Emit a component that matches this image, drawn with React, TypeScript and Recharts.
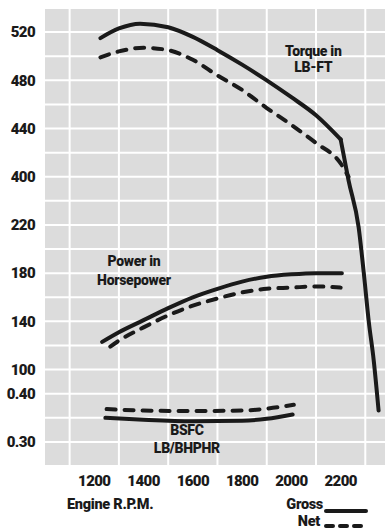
import React from 'react'
import {
  CartesianGrid,
  Line,
  LineChart,
  ReferenceDot,
  XAxis,
  YAxis,
} from 'recharts'

// rpm / value pairs
const torqueGrossRpm = [1225, 1300, 1386, 1500, 1600, 1700, 1800, 1900, 2000, 2100, 2200, 2232, 2273, 2294, 2314, 2334, 2354]
const torqueGross = [515, 523, 527, 524, 516, 505, 493, 480, 466, 451, 431, 397, 358, 320, 280, 248, 206]
const torqueNetRpm = [1225, 1300, 1400, 1500, 1600, 1700, 1800, 1900, 2000, 2100, 2200, 2232]
const torqueNet = [499, 504, 507, 505, 497, 484, 472, 457, 443, 428, 411, 400]

const powerGrossRpm = [1232, 1300, 1400, 1500, 1600, 1700, 1800, 1900, 2000, 2100, 2205]
const powerGross = [123, 131, 141, 151, 160, 167, 173, 177, 179, 180, 180]
const powerNetRpm = [1265, 1300, 1400, 1500, 1600, 1700, 1800, 1900, 2000, 2100, 2200]
const powerNet = [119, 124, 135, 145, 153, 159, 164, 167, 168, 169, 168]

const bsfcGrossRpm = [1245, 1400, 1600, 1800, 1900, 2005]
const bsfcGross = [0.35, 0.346, 0.343, 0.344, 0.348, 0.357]
const bsfcNetRpm = [1250, 1400, 1600, 1800, 1900, 2010]
const bsfcNet = [0.368, 0.365, 0.364, 0.365, 0.369, 0.377]

const rpmTicks = [1200, 1400, 1600, 1800, 2000, 2200]
const rpmGrid = [1000, 1100, 1200, 1300, 1400, 1500, 1600, 1700, 1800, 1900, 2000, 2100, 2200, 2300]

const torqueTicks = [400, 440, 480, 520]
const powerTicks = [100, 140, 180, 220]
const bsfcTicks = [0.3, 0.4]

// the three scales share the same grid: 19 rows of 20 lb-ft, 20 hp, 0.05 lb/hp-hr
const torqueDomain: [number, number] = [160, 540]
const powerDomain: [number, number] = [20, 400]
const bsfcDomain: [number, number] = [0.25, 1.2]
const TORQUE_STEP = 20

const FONT = "Roboto, 'DejaVu Sans', sans-serif"
const INK = '#1a1a1a'
const textStyle: React.CSSProperties = { fontFamily: FONT, fontWeight: 900 }
const tickStyle = { ...textStyle, fontSize: 15, letterSpacing: -0.6, fill: INK } as any

const zip = (xs: number[], ys: number[]) => xs.map((rpm, i) => ({ rpm, v: ys[i] }))
// express a value of another scale in torque units, so one axis can carry all labels
const asTorque = (v: number, d: [number, number]) =>
  torqueDomain[0] + ((v - d[0]) / (d[1] - d[0])) * (torqueDomain[1] - torqueDomain[0])

const labelTicks = [
  ...bsfcTicks.map((v) => ({ at: asTorque(v, bsfcDomain), text: v.toFixed(2) })),
  ...powerTicks.map((v) => ({ at: asTorque(v, powerDomain), text: String(v) })),
  ...torqueTicks.map((v) => ({ at: v, text: String(v) })),
]
const gridLines: number[] = []
for (let t = torqueDomain[0]; t <= torqueDomain[1]; t += TORQUE_STEP) gridLines.push(t)

const cut = torqueGrossRpm.indexOf(2200)
const torqueGrossData = zip(torqueGrossRpm, torqueGross)

const note = (lines: string[], gap: number) => (props: any) => {
  const { viewBox } = props
  const cx = viewBox.x + (viewBox.width || 0) / 2
  const cy = viewBox.y + (viewBox.height || 0) / 2
  return (
    <text textAnchor='middle' style={{ ...textStyle, letterSpacing: -0.3 }} fontSize={14} fill={INK}>
      {lines.map((l, i) => (
        <tspan key={l} x={cx} y={cy - gap / 2 + i * gap} dominantBaseline='middle'>
          {l}
        </tspan>
      ))}
    </text>
  )
}

const solid = { stroke: INK, strokeWidth: 4, dot: false, isAnimationActive: false, type: 'monotone' as const, strokeLinecap: 'round' as const }
const dashed = { ...solid, strokeDasharray: '9 9' }

export default function App() {
  return (
    <div style={{ position: 'absolute', left: 0, top: 0, width: 385, height: 531, background: '#fff' }}>
      <LineChart width={385} height={531} margin={{ top: 8, right: 0, bottom: 0, left: 0 }}>
        <CartesianGrid
          xAxisId='rpm'
          yAxisId='torque'
          fill='#dcdcdc'
          fillOpacity={1}
          stroke='#ffffff'
          strokeWidth={2}
          verticalValues={rpmGrid}
          horizontalValues={gridLines}
        />
        <XAxis
          xAxisId='rpm'
          type='number'
          dataKey='rpm'
          domain={[1000, 2380]}
          ticks={rpmTicks}
          allowDataOverflow
          height={65}
          axisLine={false}
          tickLine={false}
          tickMargin={3}
          tick={tickStyle}
          label={(p: any) => (
            <text
              x={p.viewBox.x + 22}
              y={p.viewBox.y + 39}
              dominantBaseline='middle'
              style={{ ...textStyle, letterSpacing: -0.3 }}
              fontSize={14.5}
              fill={INK}
            >
              Engine R.P.M.
            </text>
          )}
        />
        <YAxis
          yAxisId='torque'
          type='number'
          domain={torqueDomain}
          ticks={labelTicks.map((t) => t.at)}
          tickFormatter={(v: number) => labelTicks.find((t) => Math.abs(t.at - v) < 1e-6)?.text ?? ''}
          interval={0}
          allowDataOverflow
          width={45}
          axisLine={false}
          tickLine={false}
          tickMargin={4}
          tick={tickStyle}
        />
        <YAxis yAxisId='power' hide width={0} domain={powerDomain} type='number' allowDataOverflow />
        <YAxis yAxisId='bsfc' hide width={0} domain={bsfcDomain} type='number' allowDataOverflow />

        <Line xAxisId='rpm' yAxisId='torque' data={torqueGrossData.slice(0, cut + 1)} dataKey='v' {...solid} />
        <Line xAxisId='rpm' yAxisId='torque' data={torqueGrossData.slice(cut)} dataKey='v' {...solid} />
        <Line xAxisId='rpm' yAxisId='torque' data={zip(torqueNetRpm, torqueNet)} dataKey='v' {...dashed} />
        <Line xAxisId='rpm' yAxisId='power' data={zip(powerGrossRpm, powerGross)} dataKey='v' {...solid} />
        <Line xAxisId='rpm' yAxisId='power' data={zip(powerNetRpm, powerNet)} dataKey='v' {...dashed} />
        <Line xAxisId='rpm' yAxisId='bsfc' data={zip(bsfcGrossRpm, bsfcGross)} dataKey='v' {...solid} />
        <Line xAxisId='rpm' yAxisId='bsfc' data={zip(bsfcNetRpm, bsfcNet)} dataKey='v' {...dashed} />

        <ReferenceDot xAxisId='rpm' yAxisId='torque' x={2089} y={497} r={0} stroke='none' fill='none' label={note(['Torque in', 'LB-FT'], 16)} />
        <ReferenceDot xAxisId='rpm' yAxisId='power' x={1361} y={181} r={0} stroke='none' fill='none' label={note(['Power in', 'Horsepower'], 19)} />
        <ReferenceDot xAxisId='rpm' yAxisId='bsfc' x={1576} y={0.304} r={0} stroke='none' fill='none' label={note(['BSFC', 'LB/BHPHR'], 18)} />
      </LineChart>

      {/* legend */}
      <div style={{ ...textStyle, position: 'absolute', left: 0, top: 496, width: 385, fontSize: 14.5, lineHeight: '17px', letterSpacing: -0.3, color: INK }}>
        <div style={{ position: 'absolute', left: 0, top: 0, width: 323, textAlign: 'right' }}>Gross</div>
        <div style={{ position: 'absolute', left: 0, top: 17, width: 320, textAlign: 'right' }}>Net</div>
        <svg style={{ position: 'absolute', left: 323, top: 0 }} width={46} height={34}>
          <line x1={3} x2={43} y1={15} y2={15} stroke={INK} strokeWidth={4} strokeLinecap='round' />
          <line x1={3} x2={43} y1={30} y2={30} stroke={INK} strokeWidth={4} strokeLinecap='round' strokeDasharray='7 7' />
        </svg>
      </div>
    </div>
  )
}
